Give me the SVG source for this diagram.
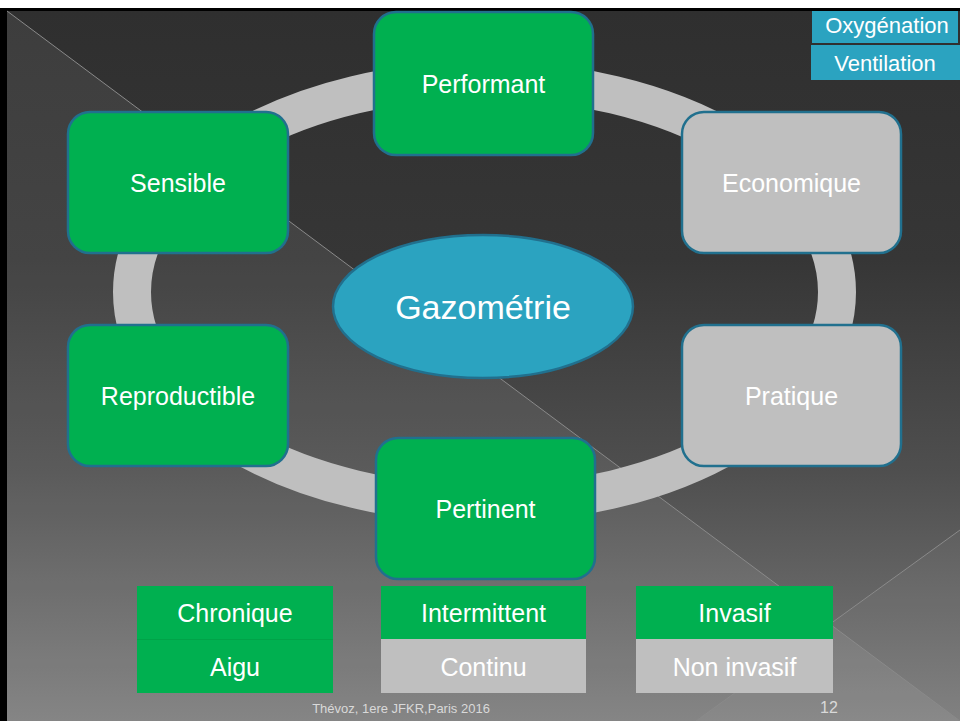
<svg xmlns="http://www.w3.org/2000/svg" width="960" height="721" viewBox="0 0 960 721">
  <defs>
    <linearGradient id="bg" x1="0" y1="0" x2="0" y2="1">
      <stop offset="0" stop-color="#2f2f2f"/>
      <stop offset="0.35" stop-color="#363636"/>
      <stop offset="0.65" stop-color="#4f4f4f"/>
      <stop offset="1" stop-color="#7c7c7c"/>
    </linearGradient>
    <style>
      .node { stroke: #21708e; stroke-width: 2.5; }
      .green { fill: #00b050; }
      .gray { fill: #bfbfbf; }
      .blue { fill: #2ba3c0; }
      .t { font-family: "Liberation Sans", Arial, sans-serif; fill: #ffffff; text-anchor: middle; font-size: 25px; }
      .deco { stroke: #8a8a8a; stroke-width: 1; fill: none; }
    </style>
  </defs>

  <!-- frame -->
  <rect x="0" y="0" width="960" height="721" fill="#ffffff"/>
  <rect x="0" y="8" width="960" height="713" fill="#000000"/>
  <rect x="7" y="11" width="953" height="710" fill="url(#bg)"/>
  <polygon points="7,11 960,721 7,721" fill="#ffffff" fill-opacity="0.07"/>
  <polygon points="960,530 696,721 960,721" fill="#ffffff" fill-opacity="0.04"/>
  <line class="deco" x1="7" y1="11" x2="960" y2="721"/>
  <line class="deco" x1="960" y1="530" x2="696" y2="721"/>

  <!-- ring connector -->
  <g id="connectors">
    <ellipse cx="484.5" cy="292" rx="352.5" ry="212" fill="none" stroke="#bfbfbf" stroke-width="38"/>
  </g>

  <g id="gazometrie">
    <ellipse class="blue" cx="483" cy="306.5" rx="150" ry="71.5" stroke="#21708e" stroke-width="2.5"/>
    <text class="t" x="483" y="319" style="font-size:34px">Gazométrie</text>
  </g>

  <g id="performant">
    <rect class="node green" x="374" y="12" width="219" height="143" rx="22"/>
    <text class="t" x="483.5" y="93">Performant</text>
  </g>
  <g id="sensible">
    <rect class="node green" x="68" y="112" width="220" height="141" rx="22"/>
    <text class="t" x="178" y="192">Sensible</text>
  </g>
  <g id="economique">
    <rect class="node gray" x="682" y="112" width="219" height="141" rx="22"/>
    <text class="t" x="791.5" y="192">Economique</text>
  </g>
  <g id="reproductible">
    <rect class="node green" x="68" y="325" width="220" height="141" rx="22"/>
    <text class="t" x="178" y="405">Reproductible</text>
  </g>
  <g id="pratique">
    <rect class="node gray" x="682" y="325" width="219" height="141" rx="22"/>
    <text class="t" x="791.5" y="405">Pratique</text>
  </g>
  <g id="pertinent">
    <rect class="node green" x="376" y="438" width="219" height="141" rx="22"/>
    <text class="t" x="485.5" y="518">Pertinent</text>
  </g>

  <g id="oxygenation">
    <rect class="blue" x="812" y="11" width="146" height="32"/>
    <text class="t" x="887" y="33" style="font-size:22px">Oxygénation</text>
  </g>
  <g id="ventilation">
    <rect class="blue" x="811" y="45" width="149" height="35"/>
    <text class="t" x="885" y="71" style="font-size:22px">Ventilation</text>
  </g>

  <g id="chronique">
    <rect class="green" x="137" y="586" width="196" height="53"/>
    <text class="t" x="235" y="622">Chronique</text>
  </g>
  <g id="aigu">
    <rect class="green" x="137" y="639" width="196" height="54"/>
    <line x1="137" y1="639.5" x2="333" y2="639.5" stroke="#00a348" stroke-width="1"/>
    <text class="t" x="235" y="676">Aigu</text>
  </g>
  <g id="intermittent">
    <rect class="green" x="381" y="586" width="205" height="53"/>
    <text class="t" x="483.5" y="622">Intermittent</text>
  </g>
  <g id="continu">
    <rect class="gray" x="381" y="639" width="205" height="54"/>
    <text class="t" x="483.5" y="676">Continu</text>
  </g>
  <g id="invasif">
    <rect class="green" x="636" y="586" width="197" height="53"/>
    <text class="t" x="734.5" y="622">Invasif</text>
  </g>
  <g id="noninvasif">
    <rect class="gray" x="636" y="639" width="197" height="54"/>
    <text class="t" x="734.5" y="676">Non invasif</text>
  </g>

  <g id="footer">
    <text x="401" y="713" text-anchor="middle" font-family="Liberation Sans, Arial, sans-serif" font-size="13" fill="#d9d9d9">Thévoz, 1ere JFKR,Paris 2016</text>
    <text x="829" y="713" text-anchor="middle" font-family="Liberation Sans, Arial, sans-serif" font-size="16" fill="#d9d9d9">12</text>
  </g>
</svg>
